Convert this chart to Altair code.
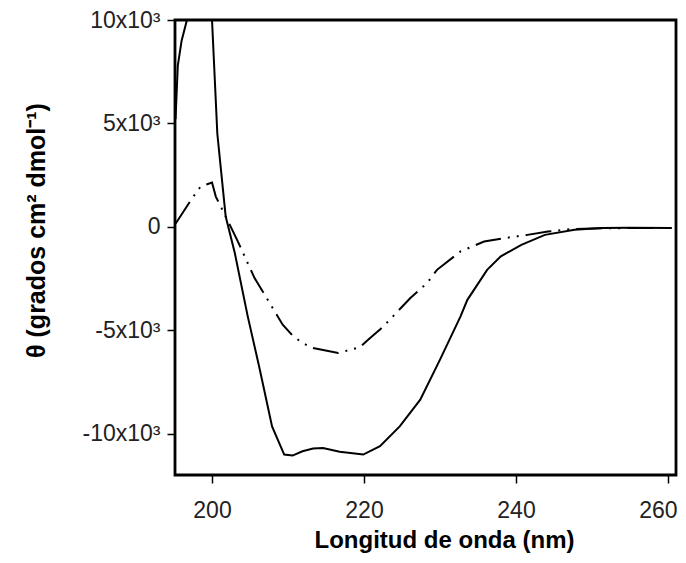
import altair as alt
import pandas as pd

# Solid curve (wavelength nm, theta)
solid_x = [195.2, 195.5, 196.0, 196.7, 197.3, 198.3, 199.2, 200.0, 200.7, 201.8, 203.0,
           204.7, 206.2, 207.9, 209.5, 210.6, 211.9, 213.3, 214.6, 216.8, 219.9, 222.1,
           224.7, 227.4, 230.0, 232.7, 233.6, 236.2, 238.0, 240.7, 243.8, 247.7, 251.3,
           255.0, 260.5]
solid_y = [5200, 7800, 9000, 10000, 12500, 13500, 12500, 10000, 4500, 500, -1270,
           -4330, -6750, -9650, -11010, -11060, -10850, -10720, -10690, -10880, -11010, -10610,
           -9650, -8360, -6420, -4330, -3530, -2080, -1430, -870, -390, -145, -60,
           -50, -60]

# Dash-dot-dot curve
dash_x = [195.2, 197.4, 198.5, 200.0, 200.5, 201.8, 203.3, 205.6, 209.3, 210.6, 211.9,
          213.3, 216.6, 219.4, 220.8, 222.1, 223.4, 226.1, 228.3, 229.6, 232.7, 235.8,
          238.4, 241.5, 244.2, 247.0, 250.0, 255.0, 260.5]
dash_y = [150, 1390, 1950, 2140, 1460, 500, -630, -2480, -4730, -5260, -5620,
          -5860, -6100, -5830, -5380, -4970, -4490, -3440, -2720, -2080, -1190, -710,
          -550, -390, -230, -120, -80, -60, -60]

y_ticks = [-10000, -5000, 0, 5000, 10000]
x_ticks = [200, 220, 240, 260]

df_solid = pd.DataFrame({"x": solid_x, "y": solid_y})
df_dash = pd.DataFrame({"x": dash_x, "y": dash_y})

FONT = "Liberation Sans"

xscale = alt.Scale(domain=[195.13, 261.05], nice=False, zero=False)
yscale = alt.Scale(domain=[-12000, 10000], nice=False, zero=False)

xaxis = alt.Axis(
    title="Longitud de onda (nm)", values=x_ticks, grid=False, domain=False,
    tickSize=8, tickColor="black", tickWidth=1.5, labelPadding=16,
    labelFlush=10, labelFlushOffset=9,
    labelFont=FONT, labelFontSize=23, labelColor="#222",
    titleFont=FONT, titleFontSize=24, titleFontWeight="bold", titleColor="black",
    titleX=269, titleY=72, titleBaseline="alphabetic", titleAnchor="middle", titleAlign="center",
)
yaxis = alt.Axis(
    title="θ  (grados cm² dmol⁻¹)", values=y_ticks, grid=False, domain=False,
    tickSize=8, tickColor="black", tickWidth=1.5, labelPadding=7,
    labelExpr="datum.value == 0 ? '0' : (datum.value < 0 ? '-' : '') + format(abs(datum.value)/1000, 'd') + 'x10³'",
    labelFont=FONT, labelFontSize=23, labelColor="#222",
    titleFont=FONT, titleFontSize=25, titleFontWeight="bold", titleColor="black",
    titleX=-131, titleY=210, titleBaseline="alphabetic", titleAngle=-90, titleAlign="center",
)

solid = alt.Chart(df_solid).mark_line(color="black", strokeWidth=2, clip=True).encode(
    x=alt.X("x:Q", scale=xscale, axis=xaxis),
    y=alt.Y("y:Q", scale=yscale, axis=yaxis),
    order="x:Q",
)
dashed = alt.Chart(df_dash).mark_line(
    color="black", strokeWidth=2, clip=True, strokeDash=[26, 7, 2, 7, 2, 7]
).encode(
    x=alt.X("x:Q", scale=xscale),
    y=alt.Y("y:Q", scale=yscale),
    order="x:Q",
)

chart = alt.layer(dashed, solid).properties(
    width=501, height=455,
    autosize=alt.AutoSizeParams(type="none"),
    padding={"left": 167, "top": 12, "right": 2, "bottom": 80},
    background="white",
).configure_view(stroke="black", strokeWidth=2.8)

chart.save("out.html", embed_options={"renderer": "svg", "actions": False})
